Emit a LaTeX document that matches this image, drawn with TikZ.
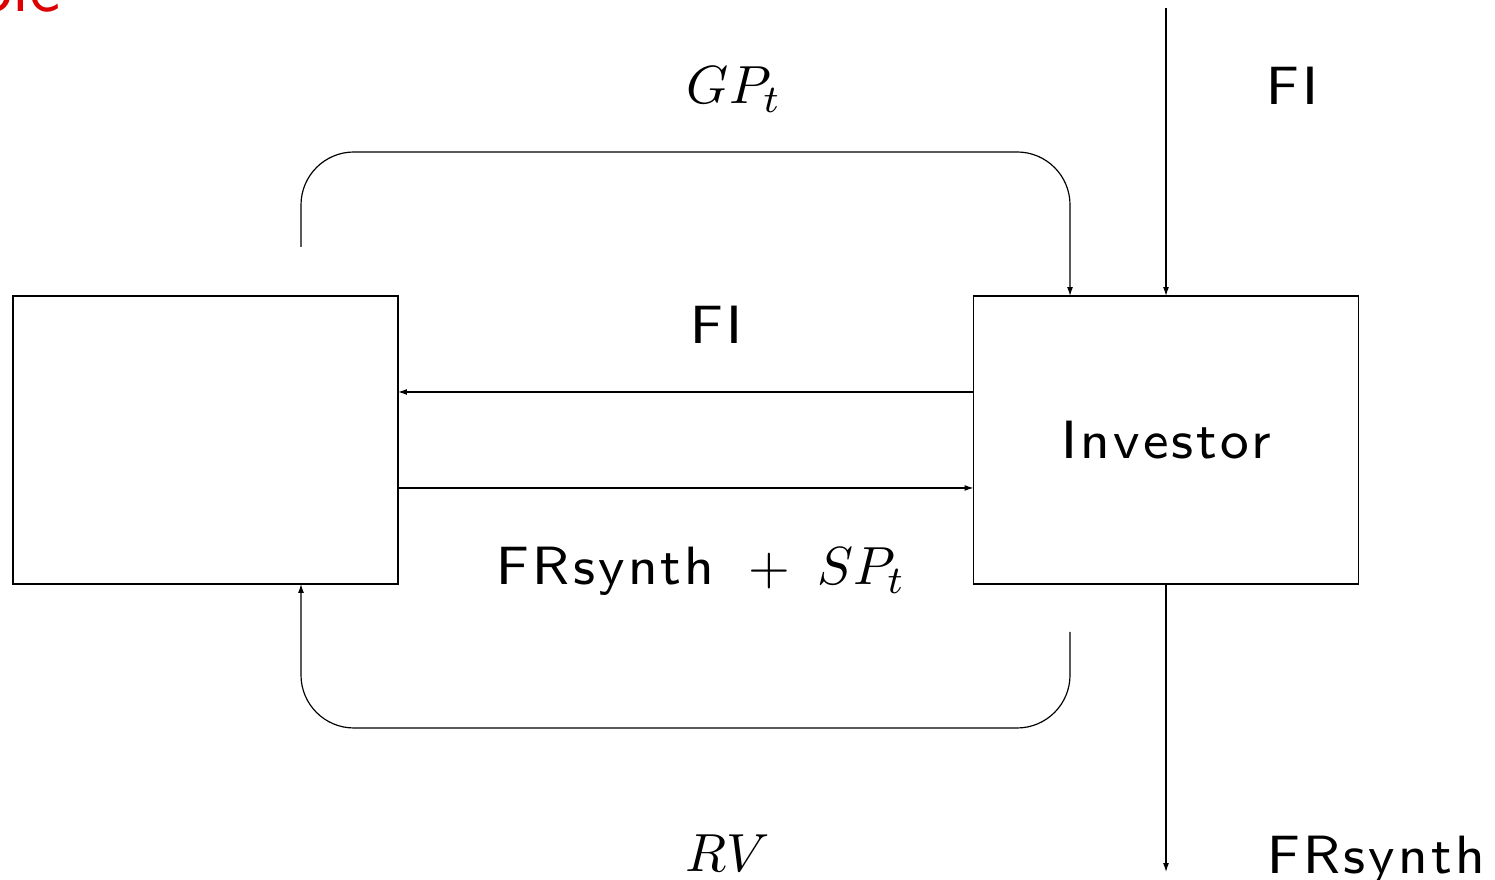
\documentclass[tikz,border=0pt]{standalone}
\usepackage{fontspec}
\newfontfamily\lsans{lmsans8-regular.otf}[LetterSpace=6]
\newfontfamily\tsans{lmsans10-regular.otf}
\usetikzlibrary{arrows.meta}
\definecolor{titlered}{RGB}{220,0,0}
\begin{document}
\begin{tikzpicture}[x=0.204pt,y=-0.204pt,
  every node/.style={font=\fontsize{11}{13}\selectfont\lsans},
  box/.style={draw, line width=0.24pt, minimum width=78.54pt, minimum height=58.75pt, inner sep=0pt, outer sep=0pt},
  arr/.style={draw, line width=0.24pt, -{Latex[length=1.8pt,width=1.2pt]}},
  lbl/.style={anchor=base, inner sep=0pt},
  loopline/.style={arr, rounded corners=10.8pt}]
\useasboundingbox (0,0) rectangle (1495,880);
\clip (0,0) rectangle (1495,880);
\node[box] (L) at (205.5,440) {};
\node[box] (R) at (1166,440) {Investor};
\draw[arr] ([yshift=9.79pt]R.west) -- ([yshift=9.79pt]L.east);
\draw[arr] ([yshift=-9.79pt]L.east) -- ([yshift=-9.79pt]R.west);
\coordinate (ts) at (301,247);
\draw[loopline] (ts) -- (301,152) -- (1070,152) -- ([xshift=-19.58pt]R.north);
\coordinate (bs) at (1070,632);
\draw[loopline] (bs) -- (1070,728) -- (301,728) -- ([xshift=19.48pt]L.south);
\coordinate (fin) at (1166,8);
\draw[arr] (fin) -- (R.north);
\coordinate (fout) at (1166,872);
\draw[arr] (R.south) -- (fout);
\node[lbl] (gp) at (734,104) {$GP_t$};
\node[lbl] (fi1) at (716,344) {FI};
\node[lbl] (frsp) at (701,585) {FRsynth ${}+\;SP_t$};
\node[lbl] (rv) at (728,872) {$RV$};
\node[lbl] (fi2) at (1292,105) {FI};
\node[lbl] (frs) at (1376,874) {FRsynth};
\node[anchor=base east, inner sep=0pt, text=titlered, font=\fontsize{14.4}{17}\selectfont\tsans] (ttl) at (62,12) {ole};
\end{tikzpicture}
\end{document}
